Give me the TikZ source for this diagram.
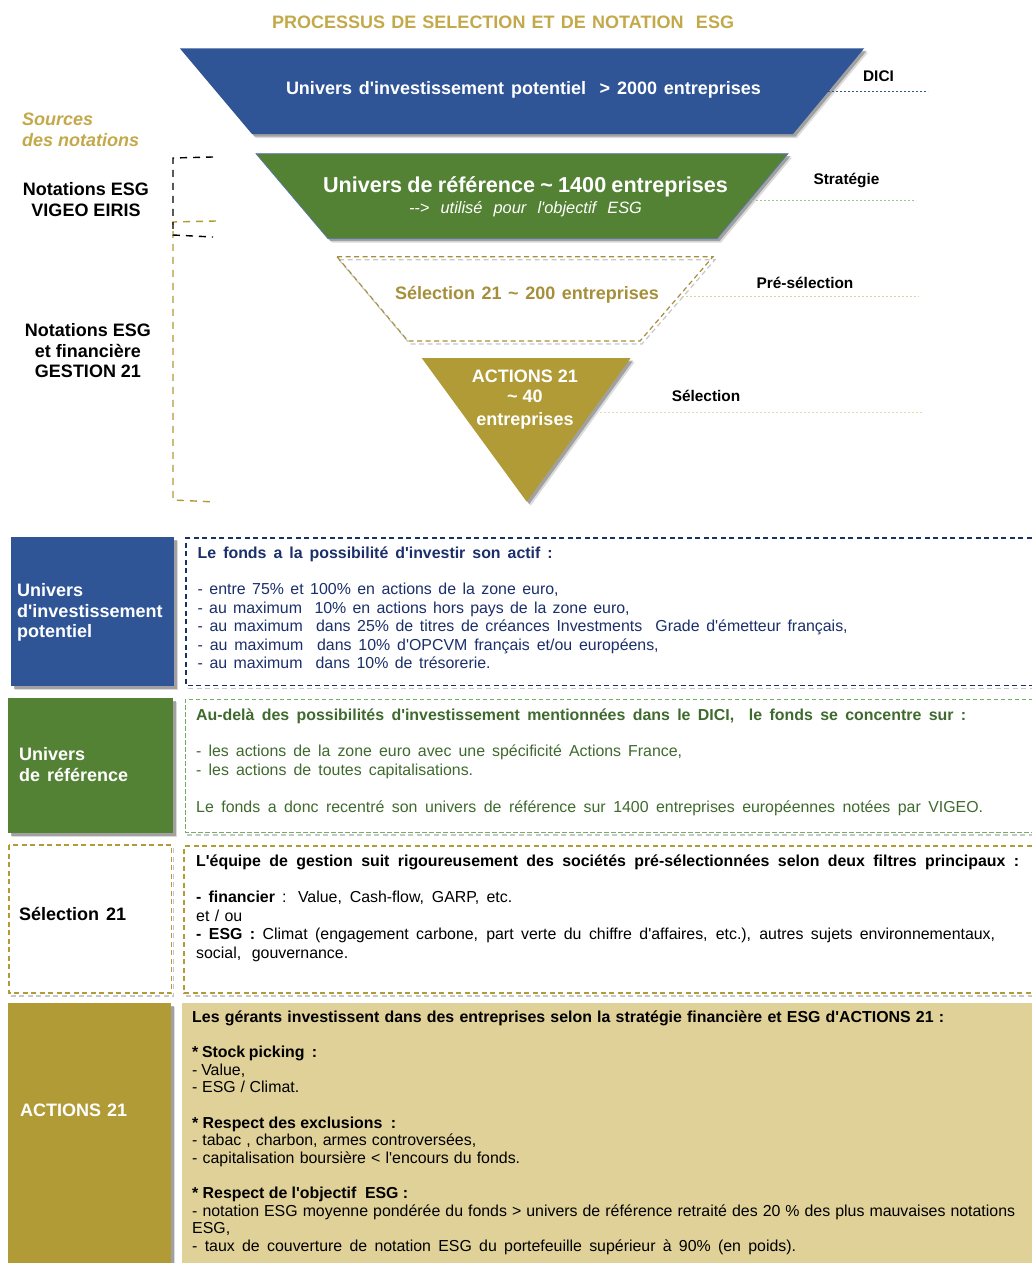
\documentclass[tikz,border=0pt]{standalone}
\usepackage{fontspec}
\setmainfont{Liberation Sans}[Ligatures=TeXOff]
\definecolor{cblue}{HTML}{2F5597}
\definecolor{cgreen}{HTML}{548235}
\definecolor{cgold}{HTML}{B19B37}
\definecolor{ctitle}{HTML}{C4A94A}
\definecolor{cpale}{HTML}{DFD197}
\definecolor{tblue}{HTML}{1B2F6B}
\definecolor{tgreen}{HTML}{3F6A2E}
\definecolor{tgold}{HTML}{A68F3A}
\definecolor{dgreen}{HTML}{6FAE63}
\newcommand{\jl}[2]{\hbox to #1pt{\strut #2\unskip}}
\newcommand{\fsz}[2]{\fontsize{#1pt}{#2pt}\selectfont}
\tikzset{
  x=1pt,y=-1pt,
  txt/.style={inner sep=0pt,anchor=north west,align=left},
  ctr/.style={inner sep=0pt,anchor=center,align=center},
  body/.style={font=\fsz{15.9}{18.4}},
  small/.style={font=\fsz{15.9}{17.6}},
  big/.style={font=\fsz{18}{20.5}\bfseries},
  lab/.style={inner sep=0pt,anchor=center,font=\fsz{15.4}{18}\bfseries},
  sh1/.style={fill=black!55,opacity=.55},
  sh2/.style={fill=black!35,opacity=.4},
  dsh/.style={dash pattern=on 5pt off 3.5pt,line width=1.2pt},
  lead/.style={line width=.8pt,dash pattern=on 2pt off 2pt},
  brk/.style={line width=1.4pt,dash pattern=on 7pt off 6pt},
}
\newcommand{\shfill}[1]{%
  \fill[sh2,shift={(4,4)}] #1;
  \fill[sh1,shift={(2.5,2.5)}] #1;
}
\newcommand{\shdash}[1]{%
  \draw[black!22,dsh,shift={(2,3)}] #1;
}
\begin{document}
\begin{tikzpicture}
\clip (0,0) rectangle (1032,1263);
\fill[white] (0,0) rectangle (1032,1263);

\node[ctr,big,text=ctitle] (title) at (503,24.5) {\jl{462}{PROCESSUS DE SELECTION ET DE NOTATION\ \ ESG}};

% funnel
\shfill{(180,48.5) -- (864,48.5) -- (793,134) -- (252,134) -- cycle}
\fill[cblue] (180,48.5) -- (864,48.5) -- (793,134) -- (252,134) -- cycle;
\shfill{(256,153.7) -- (788,153.7) -- (717,238.7) -- (328,238.7) -- cycle}
\filldraw[fill=cgreen,draw=cblue!80,line width=.7pt] (256,153.7) -- (788,153.7) -- (717,238.7) -- (328,238.7) -- cycle;
\shdash{(337,256.7) -- (713,256.7) -- (640,341) -- (408,341) -- cycle}
\draw[tgold,dsh] (337,256.7) -- (713,256.7) -- (640,341) -- (408,341) -- cycle;
\shfill{(421.7,358) -- (630.7,358) -- (526.7,501.7) -- cycle}
\fill[cgold] (421.7,358) -- (630.7,358) -- (526.7,501.7) -- cycle;

\node[ctr,big,text=white] (t1) at (523.5,90.5) {\jl{475}{Univers d'investissement potentiel\ \ > 2000 entreprises}};
\node[ctr,text=white,font=\fsz{21.6}{24}\bfseries] (t2) at (525.5,187.5) {\jl{405}{Univers de référence \textasciitilde{} 1400 entreprises}};
\node[ctr,text=white,font=\fsz{16.4}{18}\itshape] (t2b) at (525.5,209.5) {\jl{233}{--> utilisé pour l'objectif ESG}};
\node[ctr,big,text=tgold] (t3) at (527,295.5) {\jl{264}{Sélection 21 \textasciitilde{} 200 entreprises}};
\node[ctr,big,text=white] (t4a) at (525,376.5) {ACTIONS 21};
\node[ctr,big,text=white] (t4b) at (525,396.5) {\textasciitilde{} 40};
\node[ctr,big,text=white] (t4c) at (525,420.5) {entreprises};

% leader lines
\coordinate (a1) at (828,91); \coordinate (a2) at (928,91);
\coordinate (b1) at (752,200); \coordinate (b2) at (916,200);
\coordinate (c1) at (682,296.7); \coordinate (c2) at (919,296.7);
\coordinate (d1) at (600,412); \coordinate (d2) at (922,412);
\draw[lead,cblue] (a1) -- (a2);
\draw[lead,dgreen!70] (b1) -- (b2);
\draw[lead,cpale] (c1) -- (c2);
\draw[lead,cpale!80] (d1) -- (d2);
\node[lab] (l1) at (878.5,76) {DICI};
\node[lab] (l2) at (846.5,180.5) {Stratégie};
\node[lab] (l3) at (805,283) {Pré-sélection};
\node[lab] (l4) at (706,395.5) {Sélection};

% left side
\node[txt,text=ctitle,font=\fsz{18}{20.5}\bfseries\itshape] (src) at (22,111) {\jl{73}{Sources}\\\jl{117}{des notations}};
\node[ctr,big] (n1) at (86,199.5) {Notations ESG\\VIGEO EIRIS};
\node[ctr,big] (n2) at (88,351) {Notations ESG\\et financière\\GESTION 21};
\coordinate (br1) at (213,157); \coordinate (br2) at (173,158); \coordinate (br3) at (173,235); \coordinate (br4) at (213,237);
\coordinate (br5) at (216,221); \coordinate (br6) at (173,222); \coordinate (br7) at (173,500); \coordinate (br8) at (216,502);
\draw[cgold,brk] (br5) -- (br6) -- (br7) -- (br8);
\draw[black,brk] (br1) -- (br2) -- (br3) -- (br4);

% blue row
\shfill{(11,537) rectangle (174,686)}
\fill[cblue] (11,537) rectangle (174,686);
\node[txt,big,text=white] (bh) at (17,582) {\jl{68}{Univers}\\\jl{148}{d'investissement}\\\jl{76}{potentiel}};
\shdash{(186,685.5) -- (1040,685.5)}
\draw[tblue,dsh] (1040,538) -- (186,538) -- (186,685.5) -- (1040,685.5);
\node[txt,body,text=tblue] (bt) at (197.5,545) {%
\jl{355}{\bfseries Le fonds a la possibilité d'investir son actif :}\\[\baselineskip]
\jl{361}{- entre 75\% et 100\% en actions de la zone euro,}\\
\jl{432}{- au maximum\ \ 10\% en actions hors pays de la zone euro,}\\
\jl{650}{- au maximum\ \ dans 25\% de titres de créances Investments\ \ Grade d'émetteur français,}\\
\jl{461}{- au maximum\ \ dans 10\% d'OPCVM français et/ou européens,}\\
\jl{293}{- au maximum\ \ dans 10\% de trésorerie.}};

% green row
\shfill{(8,698) rectangle (173,833)}
\fill[cgreen] (8,698) rectangle (173,833);
\node[txt,big,text=white] (gh) at (19,746) {\jl{68}{Univers}\\\jl{109}{de référence}};
\shdash{(185,832) -- (1040,832)}
\draw[dgreen,line width=1pt,dash pattern=on 4.5pt off 2.5pt] (1040,699) -- (185,699) -- (185,832) -- (1040,832);
\node[txt,body,text=tgreen] (gt) at (196,707) {%
\jl{770}{\bfseries Au-delà des possibilités d'investissement mentionnées dans le DICI,\ \ le fonds se concentre sur :}\\[\baselineskip]
\jl{486}{- les actions de la zone euro avec une spécificité Actions France,}\\
\jl{277}{- les actions de toutes capitalisations.}\\[\baselineskip]
\jl{787}{Le fonds a donc recentré son univers de référence sur 1400 entreprises européennes notées par VIGEO.}};

% selection row
\shdash{(171.5,845) -- (171.5,993) -- (9,993)}
\fill[white] (9,845) rectangle (171.5,993);
\draw[cgold,dsh] (9,845) rectangle (171.5,993);
\node[txt,big,text=black] (sh) at (19,906) {\jl{107}{Sélection 21}};
\shdash{(184,993) -- (1040,993)}
\draw[cgold,dsh] (1040,846) -- (184,846) -- (184,993) -- (1040,993);
\node[txt,body,text=black] (st) at (196,853) {%
\jl{823}{\bfseries L'équipe de gestion suit rigoureusement des sociétés pré-sélectionnées selon deux filtres principaux :}\\[\baselineskip]
\jl{316}{{\bfseries - financier} : Value, Cash-flow, GARP, etc.}\\
\jl{46}{et / ou}\\
\jl{799}{{\bfseries - ESG :} Climat (engagement carbone, part verte du chiffre d'affaires, etc.), autres sujets environnementaux,}\\
\jl{152}{social, gouvernance.}};

% actions row
\shfill{(8,1003) rectangle (171,1300)}
\fill[cgold] (8,1003) rectangle (171,1300);
\node[txt,big,text=white] (ah) at (20,1102) {\jl{107}{ACTIONS 21}};
\fill[cpale] (182,1003) rectangle (1040,1300);
\node[txt,small,text=black] (at) at (192,1010) {%
\jl{752}{\bfseries Les gérants investissent dans des entreprises selon la stratégie financière et ESG d'ACTIONS 21 :}\\[\baselineskip]
\jl{125}{\bfseries {*} Stock picking\ \ :}\\
\jl{53}{- Value,}\\
\jl{107}{- ESG / Climat.}\\[\baselineskip]
\jl{204}{\bfseries {*} Respect des exclusions\ \ :}\\
\jl{284}{- tabac , charbon, armes controversées,}\\
\jl{328}{- capitalisation boursière < l'encours du fonds.}\\[\baselineskip]
\jl{216}{\bfseries {*} Respect de l'objectif\ \ ESG :}\\
\jl{823}{- notation ESG moyenne pondérée du fonds > univers de référence retraité des 20 \% des plus mauvaises notations}\\
\jl{39}{ESG,}\\
\jl{604}{- taux de couverture de notation ESG du portefeuille supérieur à 90\% (en poids).}};
\end{tikzpicture}
\end{document}
